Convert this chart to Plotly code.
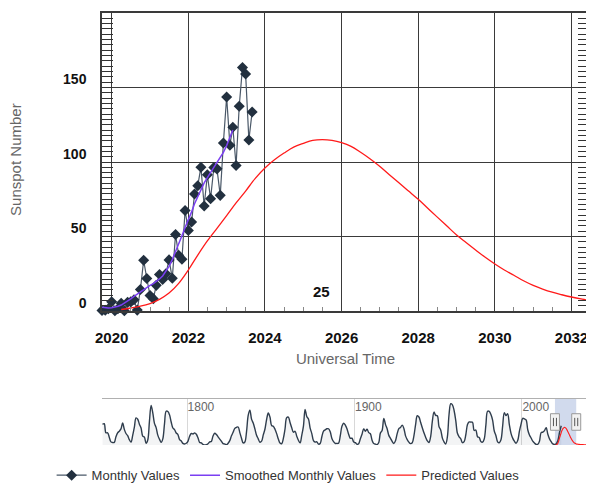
import plotly.graph_objects as go

# ---------------- data ----------------
obs_start_year, obs_start_month = 2019, 10
monthly_values = [
    0.4, 0.5, 1.5,
    6.2, 0.2, 1.5, 5.2, 0.2, 5.8, 6.1, 7.5, 0.6, 14.4, 34.0, 21.8,
    10.4, 8.2, 17.2, 24.5, 21.2, 25.0, 34.3, 22.0, 51.3, 37.4, 34.8, 67.5,
    54.0, 59.7, 78.5, 84.1, 96.5, 70.5, 91.4, 75.4, 96.3, 95.4, 77.6, 112.8,
    143.6, 111.3, 123.3, 97.6, 137.4, 163.4, 159.1, 114.8, 133.6,
]
smoothed_values = [
    2.5, 2.2, 2.0,
    2.2, 2.6, 3.2, 4.0, 5.2, 6.6, 8.2, 9.8, 11.4, 13.0, 14.6, 16.0,
    17.2, 18.4, 19.8, 21.5, 23.5, 26.5, 30.0, 34.5, 39.5, 45.0, 50.5, 56.0,
    61.0, 66.5, 72.0, 77.0, 81.5, 86.0, 89.5, 93.0, 96.5, 99.5, 102.5, 106.5,
    111.0, 116.0, 121.5,
]
pred_dates = [
    "2020-04-01", "2020-07-01", "2020-10-01",
    "2021-01-01", "2021-04-01", "2021-07-01", "2021-10-01",
    "2022-01-01", "2022-04-01", "2022-07-01", "2022-10-01",
    "2023-01-01", "2023-04-01", "2023-07-01", "2023-10-01",
    "2024-01-01", "2024-04-01", "2024-07-01", "2024-10-01",
    "2025-01-01", "2025-04-01", "2025-07-01", "2025-10-01",
    "2026-01-01", "2026-04-01", "2026-07-01", "2026-10-01",
    "2027-01-01", "2027-04-01", "2027-07-01", "2027-10-01",
    "2028-01-01", "2028-04-01", "2028-07-01", "2028-10-01",
    "2029-01-01", "2029-04-01", "2029-07-01", "2029-10-01",
    "2030-01-01", "2030-04-01", "2030-07-01", "2030-10-01",
    "2031-01-01", "2031-04-01", "2031-07-01", "2031-10-01",
    "2032-01-01", "2032-04-01", "2032-07-01",
    "2033-01-01", "2033-07-01", "2034-01-01", "2035-01-01", "2036-01-01",
    "2037-01-01", "2038-01-01", "2039-01-01", "2040-01-01",
]
pred_values = [
    1.0, 2.0, 3.2,
    5.0, 7.8, 12.0, 18.5,
    27.5, 37.5, 47.0, 55.5,
    64.0, 72.5, 80.5, 89.0,
    96.0, 101.5, 106.0, 110.0,
    112.5, 114.5, 115.0, 114.5,
    113.0, 110.5, 106.5, 102.0,
    97.0, 91.5, 86.0, 80.5,
    75.0, 69.0, 63.0, 57.0,
    51.0, 46.0, 41.0, 36.0,
    31.5, 27.5, 24.0, 20.3,
    17.2, 14.7, 12.6, 10.9,
    9.4, 8.1, 7.0,
    5.5, 4.6, 3.9, 3.0, 2.4,
    2.0, 1.7, 1.5, 1.4,
]
hist_start_year = 1749
hist_values = [
    134.7, 139.0, 79.5, 79.7, 51.2, 20.3, 16.0, 17.0, 54.0, 79.3,
    90.0, 104.8, 143.2, 102.0, 75.2, 60.7, 34.8, 19.0, 63.0, 116.3,
    176.8, 168.0, 136.0, 110.8, 58.0, 51.0, 11.7, 33.0, 154.2, 257.3,
    209.8, 141.3, 113.5, 64.2, 38.0, 17.0, 40.2, 138.2, 220.0, 218.2,
    196.8, 149.8, 111.0, 100.0, 78.2, 68.3, 35.5, 26.7, 10.7, 6.8,
    11.3, 24.2, 56.7, 75.0, 71.8, 79.2, 70.3, 46.8, 16.8, 13.5,
    4.2, 0.0, 2.3, 8.3, 20.3, 23.2, 59.0, 76.3, 68.3, 52.9,
    38.5, 24.2, 9.2, 6.3, 2.2, 11.4, 28.2, 59.9, 83.0, 108.5,
    115.2, 117.4, 80.8, 44.3, 13.4, 19.5, 85.8, 192.7, 227.3, 168.7,
    143.0, 105.5, 63.3, 40.3, 18.1, 25.1, 65.8, 102.7, 166.3, 208.3,
    182.5, 126.3, 122.0, 102.7, 74.1, 39.0, 12.7, 8.2, 43.4, 104.4,
    178.3, 182.2, 146.6, 112.1, 83.5, 89.2, 57.8, 30.7, 13.9, 62.8,
    123.6, 232.0, 185.3, 169.2, 110.1, 74.5, 28.3, 18.9, 20.7, 5.7,
    10.0, 53.7, 90.5, 99.0, 106.1, 105.8, 86.3, 42.4, 21.8, 11.2,
    10.4, 11.8, 59.5, 121.7, 142.0, 130.0, 106.6, 69.4, 43.8, 44.4,
    20.2, 15.7, 4.6, 8.5, 40.8, 70.1, 105.5, 90.1, 102.8, 80.9,
    73.2, 30.9, 9.5, 6.0, 2.4, 16.1, 79.0, 95.0, 173.6, 134.6,
    105.7, 62.7, 43.5, 23.7, 9.7, 27.9, 74.0, 106.5, 114.7, 129.7,
    108.2, 59.4, 35.1, 18.6, 9.2, 14.6, 60.2, 132.8, 190.6, 182.6,
    148.0, 113.0, 79.2, 50.8, 27.1, 16.1, 55.3, 154.3, 214.7, 193.0,
    190.7, 118.9, 98.3, 45.0, 20.1, 6.6, 54.2, 200.7, 269.3, 261.7,
    225.1, 159.0, 76.4, 53.4, 39.9, 15.0, 22.0, 66.8, 132.9, 150.0,
    149.4, 148.0, 94.4, 97.6, 54.1, 49.2, 22.5, 18.4, 39.3, 131.0,
    220.1, 218.9, 198.9, 162.4, 91.0, 60.5, 20.6, 14.8, 33.9, 123.0,
    211.1, 191.8, 203.3, 133.0, 76.1, 44.9, 25.1, 11.6, 28.9, 88.3,
    136.3, 173.9, 170.4, 163.6, 99.3, 65.3, 45.8, 24.7, 12.6, 4.2,
    4.8, 24.9, 80.8, 84.5, 94.0, 113.3, 69.8, 39.8, 21.7, 7.0,
    3.6, 8.8, 29.6, 83.2, 125.5,
]
y_tick_values = [0, 50, 100, 150]
y_tick_labels = ["0", "50", "100", "150"]
y_title = "Sunspot Number"
x_title = "Universal Time"
cycle_label = "25"
cycle_label_date = "2025-06-20"
cycle_label_value = 13

view_range = ["2019-10-01", "2032-06-16"]
nav_range = ["1749-03-01", "2040-02-01"]


def month_list(y, m, n):
    out = []
    for _ in range(n):
        out.append(f"{y:04d}-{m:02d}-01")
        m += 1
        if m > 12:
            m = 1
            y += 1
    return out


monthly_dates = month_list(obs_start_year, obs_start_month, len(monthly_values))
smoothed_dates = month_list(obs_start_year, obs_start_month, len(smoothed_values))
hist_dates = [f"{hist_start_year + i}-07-01" for i in range(len(hist_values))]

FONT = "Liberation Sans, Arial, sans-serif"

fig = go.Figure()

fig.add_trace(go.Scatter(
    x=monthly_dates, y=monthly_values, name="Monthly Values",
    mode="lines+markers", cliponaxis=False,
    line=dict(color="#4a5868", width=1.2),
    marker=dict(symbol="diamond", size=8.5, color="#22303f"),
))
fig.add_trace(go.Scatter(
    x=smoothed_dates, y=smoothed_values, name="Smoothed Monthly Values",
    mode="lines", line=dict(color="#7b3ff2", width=1.5),
))
fig.add_trace(go.Scatter(
    x=pred_dates, y=pred_values, name="Predicted Values",
    mode="lines", line=dict(color="#ff1a1a", width=1.3, shape="spline"),
))

# navigator series
fig.add_trace(go.Scatter(
    x=hist_dates, y=hist_values, xaxis="x2", yaxis="y2", showlegend=False,
    mode="lines", line=dict(color="#2f3d4d", width=1.4, shape="spline"),
    fill="tozeroy", fillcolor="rgba(47,61,77,0.06)", hoverinfo="skip",
))
fig.add_trace(go.Scatter(
    x=pred_dates, y=pred_values, xaxis="x2", yaxis="y2", showlegend=False,
    mode="lines", line=dict(color="#ff1a1a", width=1.1, shape="spline"),
    hoverinfo="skip",
))

fig.add_annotation(
    x=cycle_label_date, y=cycle_label_value, xref="x", yref="y",
    text=f"<b>{cycle_label}</b>", showarrow=False,
    font=dict(family=FONT, size=15, color="#111"),
)
fig.add_annotation(
    x=0, y=0.507, xref="x domain", yref="y domain", xshift=-86,
    text=y_title, textangle=-90, showarrow=False,
    xanchor="center", yanchor="middle",
    font=dict(family=FONT, size=15, color="#666"),
)

# navigator selection and handles
shapes = [
    dict(type="rect", xref="x2", yref="y2 domain", x0=view_range[0], x1=view_range[1],
         y0=0, y1=1, fillcolor="rgba(102,133,194,0.3)", line=dict(width=0), layer="below"),
]
for d in view_range:
    shapes.append(dict(type="rect", xref="x2", yref="y2 domain", xsizemode="pixel",
                       xanchor=d, x0=-4.5, x1=4.5, y0=0.32, y1=0.68,
                       fillcolor="#f2f2f2", line=dict(color="#999", width=1)))
    for off in (-1.5, 1.5):
        shapes.append(dict(type="line", xref="x2", yref="y2 domain", xsizemode="pixel",
                           xanchor=d, x0=off, x1=off, y0=0.41, y1=0.59,
                           line=dict(color="#555", width=1)))
fig.update_layout(shapes=shapes)

grid_col = "#3a3a3a"
fig.update_layout(
    width=586, height=475,
    margin=dict(l=94, r=5, t=5, b=38, autoexpand=False),
    paper_bgcolor="white", plot_bgcolor="white",
    font=dict(family=FONT, color="#333"),
    showlegend=True,
    legend=dict(orientation="h", xref="container", yref="paper",
                x=0.478, xanchor="center", y=-0.07, yanchor="middle",
                font=dict(family=FONT, size=13, color="#333")),
    xaxis=dict(
        type="date", range=view_range, domain=[0, 1], anchor="y",
        tick0="2020-01-01", dtick="M24", tickformat="%Y",
        showgrid=True, gridcolor=grid_col, gridwidth=1,
        ticks="", showline=True, linecolor=grid_col, linewidth=1.5, mirror=True,
        minor=dict(dtick="M6", ticks="inside", ticklen=4, tickcolor="#888", showgrid=False),
        tickfont=dict(family=FONT, size=15, color="#111", weight="bold"),
        ticklabelstandoff=12,
        title=dict(text=x_title, font=dict(family=FONT, size=15, color="#666"), standoff=9),
        zeroline=False,
    ),
    yaxis=dict(
        range=[0, 200], domain=[0.3102, 1], anchor="x",
        tickvals=y_tick_values, ticktext=y_tick_labels,
        showgrid=True, gridcolor=grid_col, gridwidth=1,
        ticks="inside", ticklen=11, tickcolor="#333",
        showline=True, linecolor=grid_col, linewidth=1.5, mirror="allticks",
        minor=dict(tick0=0, dtick=50 / 14, ticks="inside", ticklen=11, tickcolor="#333", showgrid=False),
        tickfont=dict(family=FONT, size=14, color="#111", weight="bold"),
        ticklabelstandoff=11, ticklabelshift=-8,
        zeroline=False,
    ),
    xaxis2=dict(
        type="date", range=nav_range, domain=[0, 1], anchor="y2", side="top",
        tick0="1800-01-01", dtick="M1200", tickformat="%Y",
        showgrid=True, gridcolor="#d8d8d8", ticks="",
        ticklabelposition="inside right",
        tickfont=dict(family=FONT, size=12, color="#666"),
        showline=True, linecolor="#b0b0b0", linewidth=1, zeroline=False,
    ),
    yaxis2=dict(
        range=[0, 300], domain=[0, 0.1065], anchor="x2",
        showgrid=False, showticklabels=False, ticks="", zeroline=False, showline=False,
    ),
)

fig.write_html("out.html")
